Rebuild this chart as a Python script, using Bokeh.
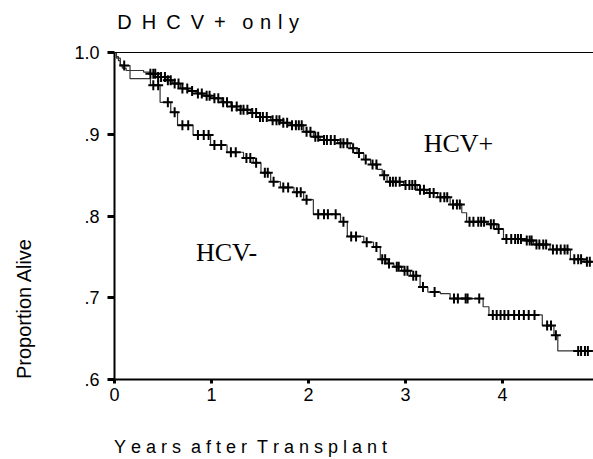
import numpy as np
from bokeh.plotting import figure
from bokeh.models import Range1d, FixedTicker, LinearAxis, Label, CustomJSTickFormatter
from bokeh.embed import file_html
from bokeh.resources import INLINE

# ---- data ----
pos_time = [0.0, 0.02, 0.04, 0.06, 0.08, 0.12, 0.30, 0.37, 0.45, 0.53, 0.60, 0.68, 0.76, 0.84, 0.92, 0.99,
            1.10, 1.20, 1.30, 1.40, 1.50, 1.61, 1.71, 1.81, 1.95, 2.05, 2.12, 2.30, 2.43, 2.50, 2.57,
            2.64, 2.71, 2.76, 2.81, 2.98, 3.12, 3.22, 3.33, 3.46, 3.58, 3.63, 3.84, 3.94, 4.01,
            4.22, 4.32, 4.49, 4.70, 4.84]
pos_surv = [1.0, 0.995, 0.990, 0.985, 0.981, 0.978, 0.976, 0.974, 0.970, 0.966, 0.962, 0.956, 0.953, 0.950, 0.947, 0.944,
            0.939, 0.934, 0.930, 0.926, 0.921, 0.917, 0.914, 0.911, 0.903, 0.897, 0.893, 0.889, 0.883, 0.877, 0.869,
            0.863, 0.857, 0.850, 0.842, 0.838, 0.832, 0.828, 0.823, 0.814, 0.804, 0.793, 0.790, 0.784, 0.772,
            0.770, 0.765, 0.759, 0.747, 0.744]
pos_end = 4.94
pos_censor = [0.37, 0.40, 0.42, 0.45, 0.48, 0.52, 0.55, 0.58, 0.62, 0.66, 0.70, 0.75, 0.80, 0.86, 0.90, 0.95,
              0.98, 1.03, 1.07, 1.12, 1.16, 1.21, 1.26, 1.30, 1.33, 1.37, 1.42, 1.46, 1.50, 1.53, 1.57, 1.63,
              1.67, 1.70, 1.74, 1.78, 1.83, 1.87, 1.90, 1.93, 1.98, 2.02, 2.07, 2.10, 2.16, 2.19, 2.23, 2.27,
              2.33, 2.36, 2.40, 2.46, 2.52, 2.59, 2.66, 2.70, 2.78, 2.84, 2.87, 2.90, 2.94, 3.00, 3.04, 3.07,
              3.10, 3.15, 3.19, 3.25, 3.29, 3.36, 3.40, 3.43, 3.49, 3.53, 3.56, 3.66, 3.70, 3.75, 3.78, 3.81,
              3.88, 3.91, 3.96, 4.04, 4.09, 4.13, 4.16, 4.19, 4.25, 4.28, 4.30, 4.35, 4.38, 4.42, 4.45, 4.52,
              4.56, 4.60, 4.64, 4.67, 4.74, 4.78, 4.81, 4.87, 4.90]

neg_time = [0.0, 0.02, 0.06, 0.16, 0.37, 0.47, 0.58, 0.65, 0.81, 0.99, 1.16, 1.33, 1.43, 1.51, 1.61, 1.71,
            1.85, 1.95, 2.05, 2.33, 2.40, 2.57, 2.67, 2.74, 2.81, 2.88, 2.96, 3.05, 3.15, 3.23, 3.36,
            3.46, 3.80, 3.86, 4.41, 4.53, 4.57]
neg_surv = [1.0, 0.993, 0.984, 0.968, 0.960, 0.939, 0.927, 0.911, 0.899, 0.887, 0.878, 0.871, 0.865, 0.853, 0.842, 0.835,
            0.829, 0.820, 0.802, 0.793, 0.775, 0.768, 0.762, 0.747, 0.742, 0.738, 0.733, 0.727, 0.713, 0.707, 0.705,
            0.699, 0.689, 0.679, 0.666, 0.654, 0.635]
neg_end = 4.94
neg_censor = [0.10, 0.40, 0.45, 0.55, 0.62, 0.70, 0.76, 0.86, 0.92, 0.97, 1.03, 1.10, 1.20, 1.25, 1.36, 1.40,
              1.46, 1.55, 1.58, 1.64, 1.74, 1.79, 1.88, 1.92, 1.98, 2.10, 2.16, 2.20, 2.28, 2.36, 2.44, 2.49,
              2.60, 2.70, 2.76, 2.79, 2.83, 2.91, 2.93, 2.99, 3.02, 3.08, 3.11, 3.18, 3.30, 3.50, 3.54, 3.62,
              3.64, 3.76, 3.90, 3.94, 3.98, 4.02, 4.06, 4.12, 4.17, 4.22, 4.27, 4.33, 4.46, 4.50, 4.55,
              4.78, 4.81, 4.85, 4.88]

y_ticks = [0.6, 0.7, 0.8, 0.9, 1.0]
x_ticks = [0, 1, 2, 3, 4, 5]

title_text = "D\u2002H\u2002C\u2002V\u2002+\u2002\u2004o\u2004n\u2004l\u2004y"
xlabel_text = "Y\u00a0e\u00a0a\u00a0r\u00a0s\u00a0\u00a0a\u00a0f\u00a0t\u00a0e\u00a0r\u00a0\u00a0T\u00a0r\u00a0a\u00a0n\u00a0s\u00a0p\u00a0l\u00a0a\u00a0n\u00a0t"
ylabel_text = "Proportion Alive"

# trailing blank space so that a label centred on the axis sits at its start
title_pad = "\u2003" * 14 + "\u2004\u2005"
xlabel_pad = "\u2003" * 11 + "\u2002"
ylabel_pad = "\u2003" * 9 + "\u2005"


def censor_y(times, surv, cens):
    t = np.asarray(times)
    s = np.asarray(surv)
    idx = np.searchsorted(t, np.asarray(cens), side="right") - 1
    return s[idx]


p = figure(width=593, height=459, output_backend="svg", toolbar_location=None,
           x_range=Range1d(0, 4.938), y_range=Range1d(0.6, 1.0),
           min_border_left=114, min_border_right=0, min_border_top=52, min_border_bottom=78)
p.outline_line_color = None
p.grid.grid_line_color = None
p.background_fill_color = "white"
p.border_fill_color = "white"

# steps
for tt, ss, end in [(pos_time, pos_surv, pos_end), (neg_time, neg_surv, neg_end)]:
    xs = list(tt) + [end]
    ys = list(ss) + [ss[-1]]
    p.step(xs, ys, mode="after", line_color="#333333", line_width=1.2)

p.scatter(pos_censor, censor_y(pos_time, pos_surv, pos_censor), marker="cross",
          size=10, line_color="black", line_width=2)
p.scatter(neg_censor, censor_y(neg_time, neg_surv, neg_censor), marker="cross",
          size=10, line_color="black", line_width=2)

fmt = CustomJSTickFormatter(code="""
if (tick >= 0.999) { return "1.0"; }
if (tick < 0.999 && tick > 0.05 && tick < 1) { return tick.toFixed(1).replace(/^0/, ""); }
return tick.toFixed(0);
""")

ya = p.yaxis[0]
ya.ticker = FixedTicker(ticks=y_ticks)
ya.formatter = fmt
ya.axis_line_width = 2
ya.axis_line_color = "black"
ya.major_tick_out = 7
ya.major_tick_in = 0
ya.major_tick_line_width = 3
ya.minor_tick_line_color = None
ya.major_label_standoff = 8
ya.major_label_text_font = "Liberation Sans"
ya.major_label_text_font_size = "18px"
ya.major_label_text_color = "black"
ya.axis_label = ylabel_text + ylabel_pad
ya.axis_label_text_font = "Liberation Sans"
ya.axis_label_text_font_size = "20px"
ya.axis_label_text_font_style = "normal"
ya.axis_label_text_color = "black"
ya.axis_label_standoff = 36

xa = p.xaxis[0]
xa.ticker = FixedTicker(ticks=x_ticks)
xa.axis_line_width = 2
xa.axis_line_color = "black"
xa.major_tick_out = 4
xa.major_tick_in = 0
xa.major_tick_line_width = 3
xa.minor_tick_line_color = None
xa.major_label_standoff = 4
xa.major_label_text_font = "Liberation Sans"
xa.major_label_text_font_size = "18px"
xa.major_label_text_color = "black"
xa.axis_label = xlabel_text + xlabel_pad
xa.axis_label_text_font = "Liberation Sans"
xa.axis_label_text_font_size = "18px"
xa.axis_label_text_font_style = "normal"
xa.axis_label_text_color = "black"
xa.axis_label_standoff = 33

top = LinearAxis(ticker=FixedTicker(ticks=[]), axis_line_color="black", axis_line_width=1,
                 major_tick_line_color=None, minor_tick_line_color=None,
                 major_label_text_font_size="0px", major_label_standoff=0,
                 axis_label=title_text + title_pad, axis_label_text_font="Liberation Sans",
                 axis_label_text_font_size="20px", axis_label_text_font_style="normal",
                 axis_label_text_color="black", axis_label_standoff=20)
p.add_layout(top, "above")

p.add_layout(Label(x=3.546, y=0.889, text="HCV+", text_font="Liberation Serif",
                   text_font_size="26px", text_baseline="middle", text_align="center",
                   text_color="black"))
p.add_layout(Label(x=1.155, y=0.7556, text="HCV-", text_font="Liberation Serif",
                   text_font_size="26px", text_baseline="middle", text_align="center",
                   text_color="black"))

open("out.html", "w").write(file_html(p, INLINE))
